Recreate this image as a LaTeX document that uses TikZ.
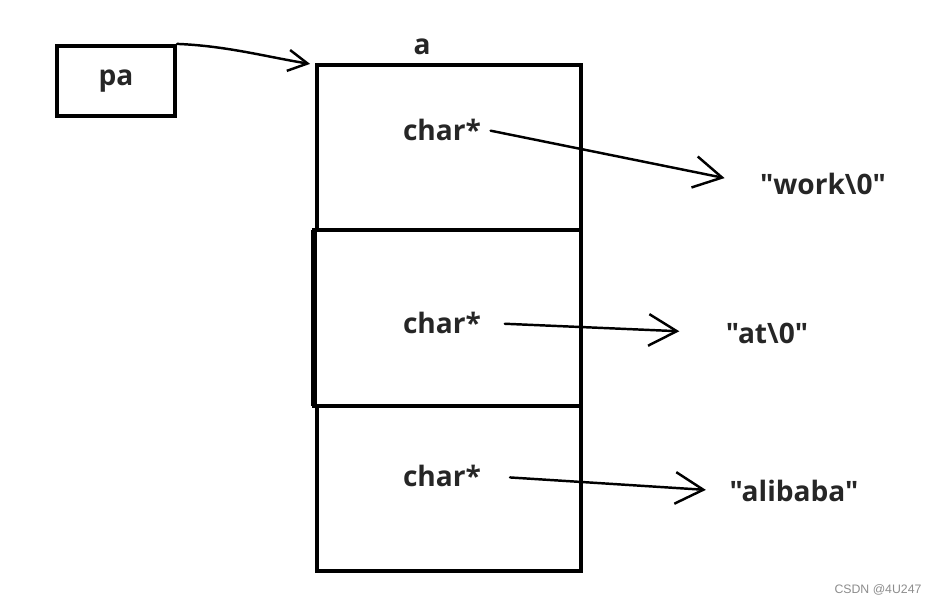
\documentclass[tikz,border=0pt]{standalone}
\usepackage{fontspec}
\setmainfont{Open Sans}[Ligatures=TeXOff]
\newfontfamily\wmfont{Liberation Sans}
\usetikzlibrary{arrows.meta}

\begin{document}
\begin{tikzpicture}[x=0.02cm, y=-0.02cm,
        lbl/.style={font=\bfseries\fontsize{16}{18}\selectfont, text=black!85},
        cell/.style={draw, line width=2.4pt, minimum width=5.28cm, inner sep=0pt, outer sep=0pt},
        ptr/.style={line width=1.4pt, line cap=round, -{Straight Barb[length=16pt, width=18pt, line width=1.4pt]}}]

        \useasboundingbox (0,0) rectangle (938,605);

        \node[draw, line width=2.4pt, minimum width=2.36cm, minimum height=1.4cm, inner sep=0pt, lbl] (pa) at (116,81) {pa};

        \node[cell, minimum height=3.3cm] (cell1) at (449,147.5) {};
        \node[cell, minimum height=3.52cm, minimum width=5.34cm] (cell2) at (447.5,318) {};
        \node[cell, minimum height=3.3cm] (cell3) at (449,488.5) {};
        \draw[line width=3.4pt] (cell2.north west) -- (cell2.south west);

        \node[lbl] (arr) at (422,47) {a};

        \node[lbl] (c1) at (442,130) {char*};
        \node[lbl] (c2) at (442,323) {char*};
        \node[lbl] (c3) at (442,476) {char*};

        \node[lbl] (s1) at (823,184) {"work\textbackslash 0"};
        \node[lbl] (s2) at (767,333) {"at\textbackslash 0"};
        \node[lbl] (s3) at (794,491) {"alibaba"};

        \draw[line width=1.4pt, line cap=round, -{Straight Barb[length=11pt, width=12pt, line width=1.4pt]}, shorten >=4pt]
            (pa.north east) .. controls +(50,2) and +(-50,-8) .. (cell1.north west);

        \draw[ptr, shorten <=2pt, shorten >=17pt] (c1.east) -- (s1.west);
        \draw[ptr, shorten <=10pt, shorten >=23pt] (c2.east) -- (s2.west);
        \draw[ptr, shorten <=13pt, shorten >=10pt] (c3.east) -- (s3.west);

        \node[text=black!45, font=\wmfont\fontsize{7}{8}\selectfont] (mark) at (878,590) {CSDN @4U247};
\end{tikzpicture}
\end{document}
